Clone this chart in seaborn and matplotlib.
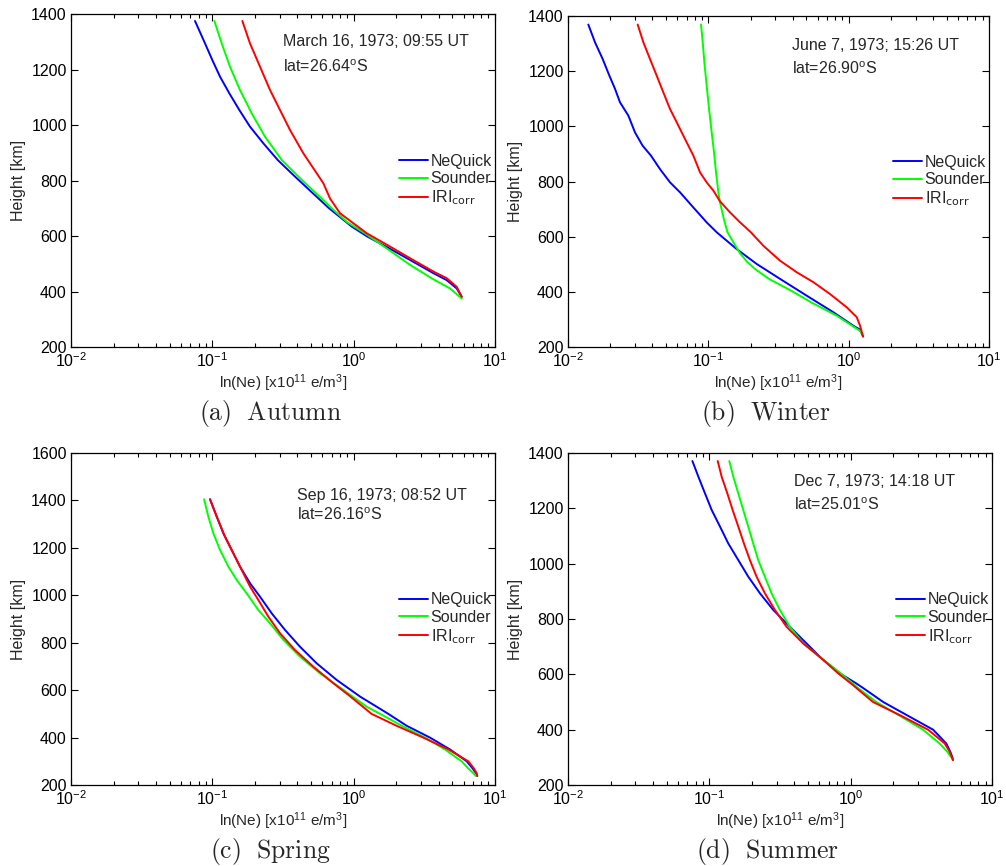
import matplotlib
matplotlib.use("Agg")
import matplotlib.pyplot as plt
import seaborn as sns
import numpy as np
from matplotlib.ticker import LogLocator, NullFormatter

# ---------------- Electron density profiles: Ne (x1e11 e/m^3) against height (km) ----------------
# (a) Autumn - March 16, 1973
autumn_h_nequick = [1375, 1294, 1234, 1174, 1114, 1054, 994, 934, 874, 814, 760, 700, 634, 598, 556, 514, 466, 441, 411, 381]
autumn_ne_nequick = [0.0754, 0.0888, 0.1000, 0.1134, 0.1320, 0.1553, 0.1848, 0.2297, 0.2902, 0.3848, 0.50, 0.67,
                     0.97, 1.25, 1.78, 2.50, 3.667, 4.557, 5.362, 5.818]
autumn_h_sounder = [1375, 1294, 1210, 1126, 1042, 958, 874, 802, 740, 694, 650, 610, 547, 496, 444, 411, 375]
autumn_ne_sounder = [0.1034, 0.1165, 0.1334, 0.157, 0.190, 0.236, 0.31, 0.43, 0.58, 0.72, 0.90, 1.20, 1.81, 2.507,
                     3.667, 4.81, 5.82]
autumn_h_iri = [1375, 1294, 1210, 1126, 1054, 982, 898, 826, 790, 735, 682, 610, 562, 520, 472, 448, 417, 381]
autumn_ne_iri = [0.1631, 0.1848, 0.2176, 0.2561, 0.3013, 0.3547, 0.4407, 0.548, 0.6106, 0.681, 0.801, 1.237, 1.81,
                 2.507, 3.667, 4.557, 5.362, 5.818]

# (b) Winter - June 7, 1973
winter_h_nequick = [1369, 1305, 1244, 1184, 1136, 1087, 1039, 978, 930, 894, 845, 797, 761, 706, 652, 616, 555, 501,
                    447, 386, 326, 277, 263, 238]
winter_ne_nequick = [0.01396, 0.01557, 0.01767, 0.01971, 0.02163, 0.02348, 0.02692, 0.03003, 0.0340, 0.0390, 0.04525,
                     0.05333, 0.0628, 0.0782, 0.0973, 0.1147, 0.1593, 0.2212, 0.3244, 0.5027, 0.7781, 1.081, 1.206,
                     1.266]
winter_h_sounder = [1369, 1305, 1232, 1148, 1063, 978, 906, 833, 761, 724, 664, 616, 580, 540, 510, 483, 447, 404,
                    362, 314, 259, 248]
winter_ne_sounder = [0.0887, 0.0912, 0.0937, 0.0973, 0.1012, 0.1057, 0.1098, 0.1135, 0.1179, 0.1212, 0.1290, 0.1370,
                     0.1508, 0.1680, 0.1880, 0.2150, 0.2700, 0.3900, 0.5400, 0.8200, 1.200, 1.25]
winter_h_iri = [1369, 1305, 1244, 1184, 1123, 1063, 1015, 954, 894, 833, 797, 767, 728, 688, 652, 616, 567, 513, 471,
                435, 392, 344, 308, 277, 238]
winter_ne_iri = [0.03138, 0.03443, 0.03841, 0.04285, 0.04781, 0.05333, 0.0595, 0.06823, 0.0782, 0.0873, 0.0973, 0.1086,
                 0.1212, 0.1428, 0.1683, 0.2010, 0.2468, 0.3244, 0.4265, 0.5607, 0.7369, 0.9687, 1.142, 1.206, 1.266]

# (c) Spring - Sep 16, 1973
spring_h_nequick = [1405, 1332, 1261, 1191, 1121, 1051, 994, 924, 854, 783, 713, 643, 573, 530, 500, 450, 400, 350,
                    300, 270, 250, 238]
spring_ne_nequick = [0.0963, 0.1074, 0.1197, 0.1371, 0.157, 0.1848, 0.2176, 0.2631, 0.3269, 0.4175, 0.5479, 0.759,
                     1.110, 1.457, 1.76, 2.37, 3.47, 4.81, 6.31, 6.95, 7.34, 7.50]
spring_h_sounder = [1405, 1332, 1261, 1191, 1121, 1065, 1008, 938, 882, 812, 741, 671, 601, 530, 500, 450, 400, 350,
                    300, 270, 250, 238]
spring_ne_sounder = [0.0874, 0.0937, 0.1017, 0.1134, 0.1299, 0.1487, 0.175, 0.2117, 0.2561, 0.3182, 0.4175, 0.5784,
                     0.8459, 1.237, 1.54, 2.19, 3.20, 4.43, 5.81, 6.48, 7.03, 7.34]
spring_h_iri = [1405, 1332, 1247, 1177, 1107, 1037, 980, 910, 840, 769, 699, 629, 580, 500, 450, 400, 350, 300,
                270, 250, 238]
spring_ne_iri = [0.0963, 0.1074, 0.123, 0.1409, 0.1613, 0.1848, 0.2117, 0.2491, 0.3013, 0.3848, 0.5188, 0.7189, 0.918,
                 1.34, 2.01, 3.11, 4.68, 6.48, 7.10, 7.42, 7.50]

# (d) Summer - Dec 7, 1973
summer_h_nequick = [1371, 1314, 1254, 1194, 1134, 1073, 1013, 953, 893, 833, 772, 712, 658, 604, 567, 550, 500, 450,
                    400, 350, 320, 300, 290]
summer_ne_nequick = [0.0759, 0.0837, 0.0932, 0.1039, 0.119, 0.1362, 0.1603, 0.1886, 0.228, 0.2831, 0.371, 0.4865,
                     0.6209, 0.8364, 1.097, 1.23, 1.70, 2.55, 3.83, 4.75, 5.07, 5.24, 5.30]
summer_h_sounder = [1371, 1314, 1254, 1194, 1134, 1073, 1013, 953, 893, 833, 772, 712, 658, 604, 550, 500, 450, 400,
                    350, 320, 300, 290]
summer_ne_sounder = [0.1385, 0.1478, 0.1603, 0.1738, 0.1886, 0.2045, 0.2218, 0.2472, 0.2755, 0.3155, 0.371, 0.4608,
                     0.6209, 0.85, 1.13, 1.52, 2.23, 3.25, 4.26, 4.83, 5.16, 5.30]
summer_h_iri = [1371, 1314, 1254, 1194, 1134, 1073, 1013, 953, 893, 833, 772, 712, 658, 604, 561, 500, 450, 400, 350,
                320, 300, 290]
summer_ne_iri = [0.1146, 0.1223, 0.1341, 0.1462, 0.1603, 0.1757, 0.1937, 0.2159, 0.2472, 0.2909, 0.3516, 0.4608,
                 0.6209, 0.814, 1.039, 1.44, 2.28, 3.53, 4.63, 5.02, 5.21, 5.30]

model_names = ["NeQuick", "Sounder", "IRI$_{\\rm corr}$"]
model_colors = ["#0000ff", "#00ff00", "#ff0000"]

panels = [
    dict(profiles=[(autumn_ne_nequick, autumn_h_nequick), (autumn_ne_sounder, autumn_h_sounder),
                   (autumn_ne_iri, autumn_h_iri)],
         date="March 16, 1973; 09:55 UT", lat="lat=26.64$^{o}$S", caption="(a)\\ \\ Autumn",
         ylim=(200, 1400), rect=[0.0706, 0.5993, 0.4214, 0.3845], txt=(0.50, 0.916, 0.841)),
    dict(profiles=[(winter_ne_nequick, winter_h_nequick), (winter_ne_sounder, winter_h_sounder),
                   (winter_ne_iri, winter_h_iri)],
         date="June 7, 1973; 15:26 UT", lat="lat=26.90$^{o}$S", caption="(b)\\ \\ Winter",
         ylim=(200, 1400), rect=[0.5646, 0.5993, 0.4185, 0.3822], txt=(0.532, 0.912, 0.840)),
    dict(profiles=[(spring_ne_nequick, spring_h_nequick), (spring_ne_sounder, spring_h_sounder),
                   (spring_ne_iri, spring_h_iri)],
         date="Sep 16, 1973; 08:52 UT", lat="lat=26.16$^{o}$S", caption="(c)\\ \\ Spring",
         ylim=(200, 1600), rect=[0.0706, 0.0935, 0.4214, 0.3834], txt=(0.533, 0.873, 0.813)),
    dict(profiles=[(summer_ne_nequick, summer_h_nequick), (summer_ne_sounder, summer_h_sounder),
                   (summer_ne_iri, summer_h_iri)],
         date="Dec 7, 1973; 14:18 UT", lat="lat=25.01$^{o}$S", caption="(d)\\ \\ Summer",
         ylim=(200, 1400), rect=[0.5646, 0.0935, 0.4215, 0.3834], txt=(0.533, 0.913, 0.843)),
]

sns.set_theme(style="ticks")
plt.rcParams["font.family"] = ["Liberation Sans", "DejaVu Sans"]
plt.rcParams["mathtext.default"] = "regular"

fig = plt.figure(figsize=(10.06, 8.66), dpi=100)

for p in panels:
    ax = fig.add_axes(p["rect"])
    for (ne, h), name, col in zip(p["profiles"], model_names, model_colors):
        sns.lineplot(x=ne, y=h, sort=False, estimator=None, color=col, lw=1.4,
                     label=name, ax=ax)
    ax.set_xscale("log")
    ax.set_xlim(1e-2, 10)
    ax.set_ylim(*p["ylim"])
    ax.set_yticks(np.arange(p["ylim"][0], p["ylim"][1] + 1, 200))
    ax.xaxis.set_major_locator(LogLocator(base=10, numticks=10))
    ax.xaxis.set_minor_locator(LogLocator(base=10, subs=np.arange(2, 10), numticks=20))
    ax.xaxis.set_minor_formatter(NullFormatter())
    ax.tick_params(which="both", direction="in", top=True, right=True,
                   labelsize=11.5, colors="black", width=0.8)
    ax.tick_params(which="major", length=5, pad=3)
    ax.tick_params(which="minor", length=3)
    for s in ax.spines.values():
        s.set_linewidth(0.9)
        s.set_color("black")
    ax.set_xlabel("ln(Ne) [x10$^{11}$ e/m$^{3}$]", fontsize=11, labelpad=2)
    ax.set_ylabel("Height [km]", fontsize=11.5, labelpad=4)
    tx, ty1, ty2 = p["txt"]
    ax.text(tx, ty1, p["date"], transform=ax.transAxes, fontsize=11.5, va="center", ha="left")
    ax.text(tx, ty2, p["lat"], transform=ax.transAxes, fontsize=11.5, va="center", ha="left")
    ax.legend(loc="center right", bbox_to_anchor=(1.0, 0.5), frameon=False,
              fontsize=11.5, handlelength=1.8, handletextpad=0.15,
              labelspacing=0.15, borderaxespad=0.1, borderpad=0.1)
    # caption below the panel
    bbox = p["rect"]
    cx = bbox[0] + bbox[2] * 0.47
    cy = bbox[1] - 0.077
    fig.text(cx, cy, "$\\mathrm{" + p["caption"] + "}$", math_fontfamily="cm",
             fontsize=18.5, ha="center", va="center")

fig.savefig("out.png", dpi=100, facecolor="white")
